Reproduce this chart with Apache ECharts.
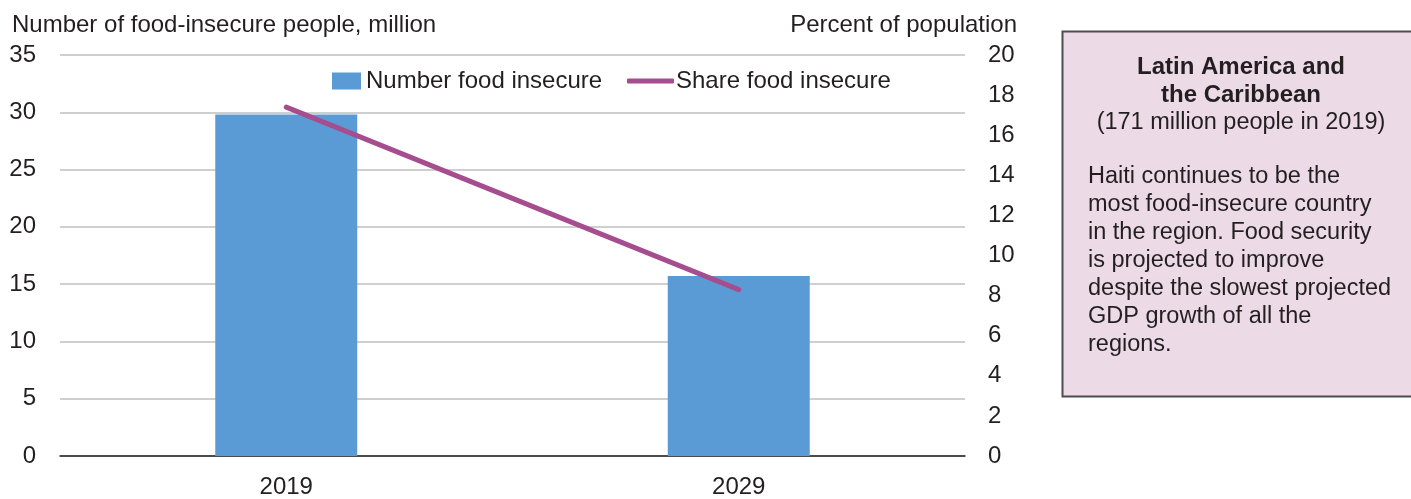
<!DOCTYPE html>
<html>
<head>
<meta charset="utf-8">
<script src="https://cdn.jsdelivr.net/npm/echarts@6/dist/echarts.min.js"></script>
<style>
  html, body { margin: 0; padding: 0; background: #fff; }
  #chart { width: 1411px; height: 499px; }
</style>
</head>
<body>
<div id="chart"></div>
<script>
// data
var years = ['2019', '2029'];
var numberInsecure = [29.8, 15.7];   // million people, left axis
var shareInsecure = [17.4, 8.3];     // percent of population, right axis

var boxTitle = ['Latin America and', 'the Caribbean'];
var boxSub = '(171 million people in 2019)';
var boxBody = [
    'Haiti continues to be the',
    'most food-insecure country',
    'in the region. Food security',
    'is projected to improve',
    'despite the slowest projected',
    'GDP growth of all the',
    'regions.'
];

var FONT = 'Liberation Sans, Arial, sans-serif';
var FS = 24;
var BFS = 23.5;
var TXT = '#231f20';

var myChart = echarts.init(document.getElementById('chart'));

// side box
var boxEls = [{
    type: 'rect',
    shape: {x: 1062.5, y: 31.5, width: 360, height: 365},
    style: {fill: '#ecdae6', stroke: '#4d4d4f', lineWidth: 2}
}];
boxTitle.forEach(function (t, i) {
    boxEls.push({
        type: 'text', x: 1241, y: 67 + i * 28,
        style: {text: t, fill: TXT, font: 'bold ' + FS + 'px ' + FONT, align: 'center', verticalAlign: 'middle'}
    });
});
boxEls.push({
    type: 'text', x: 1241, y: 123,
    style: {text: boxSub, fill: TXT, font: BFS + 'px ' + FONT, align: 'center', verticalAlign: 'middle'}
});
boxBody.forEach(function (t, i) {
    boxEls.push({
        type: 'text', x: 1088, y: 177 + i * 28,
        style: {text: t, fill: TXT, font: BFS + 'px ' + FONT, align: 'left', verticalAlign: 'middle'}
    });
});

var option = {
    animation: false,
    textStyle: {fontFamily: FONT, color: TXT},
    grid: {left: 60, right: 446, top: 55, bottom: 38, containLabel: false},
    legend: [{
        data: [{name: 'Number food insecure', icon: 'rect'}],
        left: 327, top: 64,
        itemWidth: 29, itemHeight: 17,
        textStyle: {fontSize: FS, color: TXT, fontFamily: FONT}
    }, {
        data: [{name: 'Share food insecure', icon: 'roundRect'}],
        left: 622, top: 64,
        itemWidth: 47, itemHeight: 5,
        textStyle: {fontSize: FS, color: TXT, fontFamily: FONT, padding: [0, 0, 0, -3]}
    }],
    xAxis: {
        type: 'category',
        data: years,
        axisLine: {lineStyle: {color: '#231f20', width: 1.5}},
        axisTick: {show: false},
        axisLabel: {fontSize: FS, color: TXT, margin: 19}
    },
    yAxis: [{
        type: 'value',
        min: 0, max: 35, interval: 5,
        axisLine: {show: false},
        axisTick: {show: false},
        axisLabel: {fontSize: FS, color: TXT, margin: 24},
        splitLine: {lineStyle: {color: '#bfbfbf', width: 1.5}}
    }, {
        type: 'value',
        min: 0, max: 20, interval: 2,
        axisLine: {show: false},
        axisTick: {show: false},
        axisLabel: {fontSize: FS, color: TXT, margin: 23},
        splitLine: {show: false}
    }],
    graphic: [{
        type: 'text', left: 12, top: 13,
        style: {text: 'Number of food-insecure people, million', fill: TXT, font: FS + 'px ' + FONT}
    }, {
        type: 'text', right: 394, top: 13,
        style: {text: 'Percent of population', fill: TXT, font: FS + 'px ' + FONT}
    }].concat(boxEls),
    series: [{
        name: 'Number food insecure',
        type: 'bar',
        data: numberInsecure,
        barWidth: 142,
        itemStyle: {color: '#5b9bd5'}
    }, {
        name: 'Share food insecure',
        type: 'line',
        yAxisIndex: 1,
        data: shareInsecure,
        symbol: 'none',
        lineStyle: {color: '#a64d90', width: 5, cap: 'round'},
        itemStyle: {color: '#a64d90'}
    }]
};

myChart.setOption(option);
</script>
</body>
</html>
